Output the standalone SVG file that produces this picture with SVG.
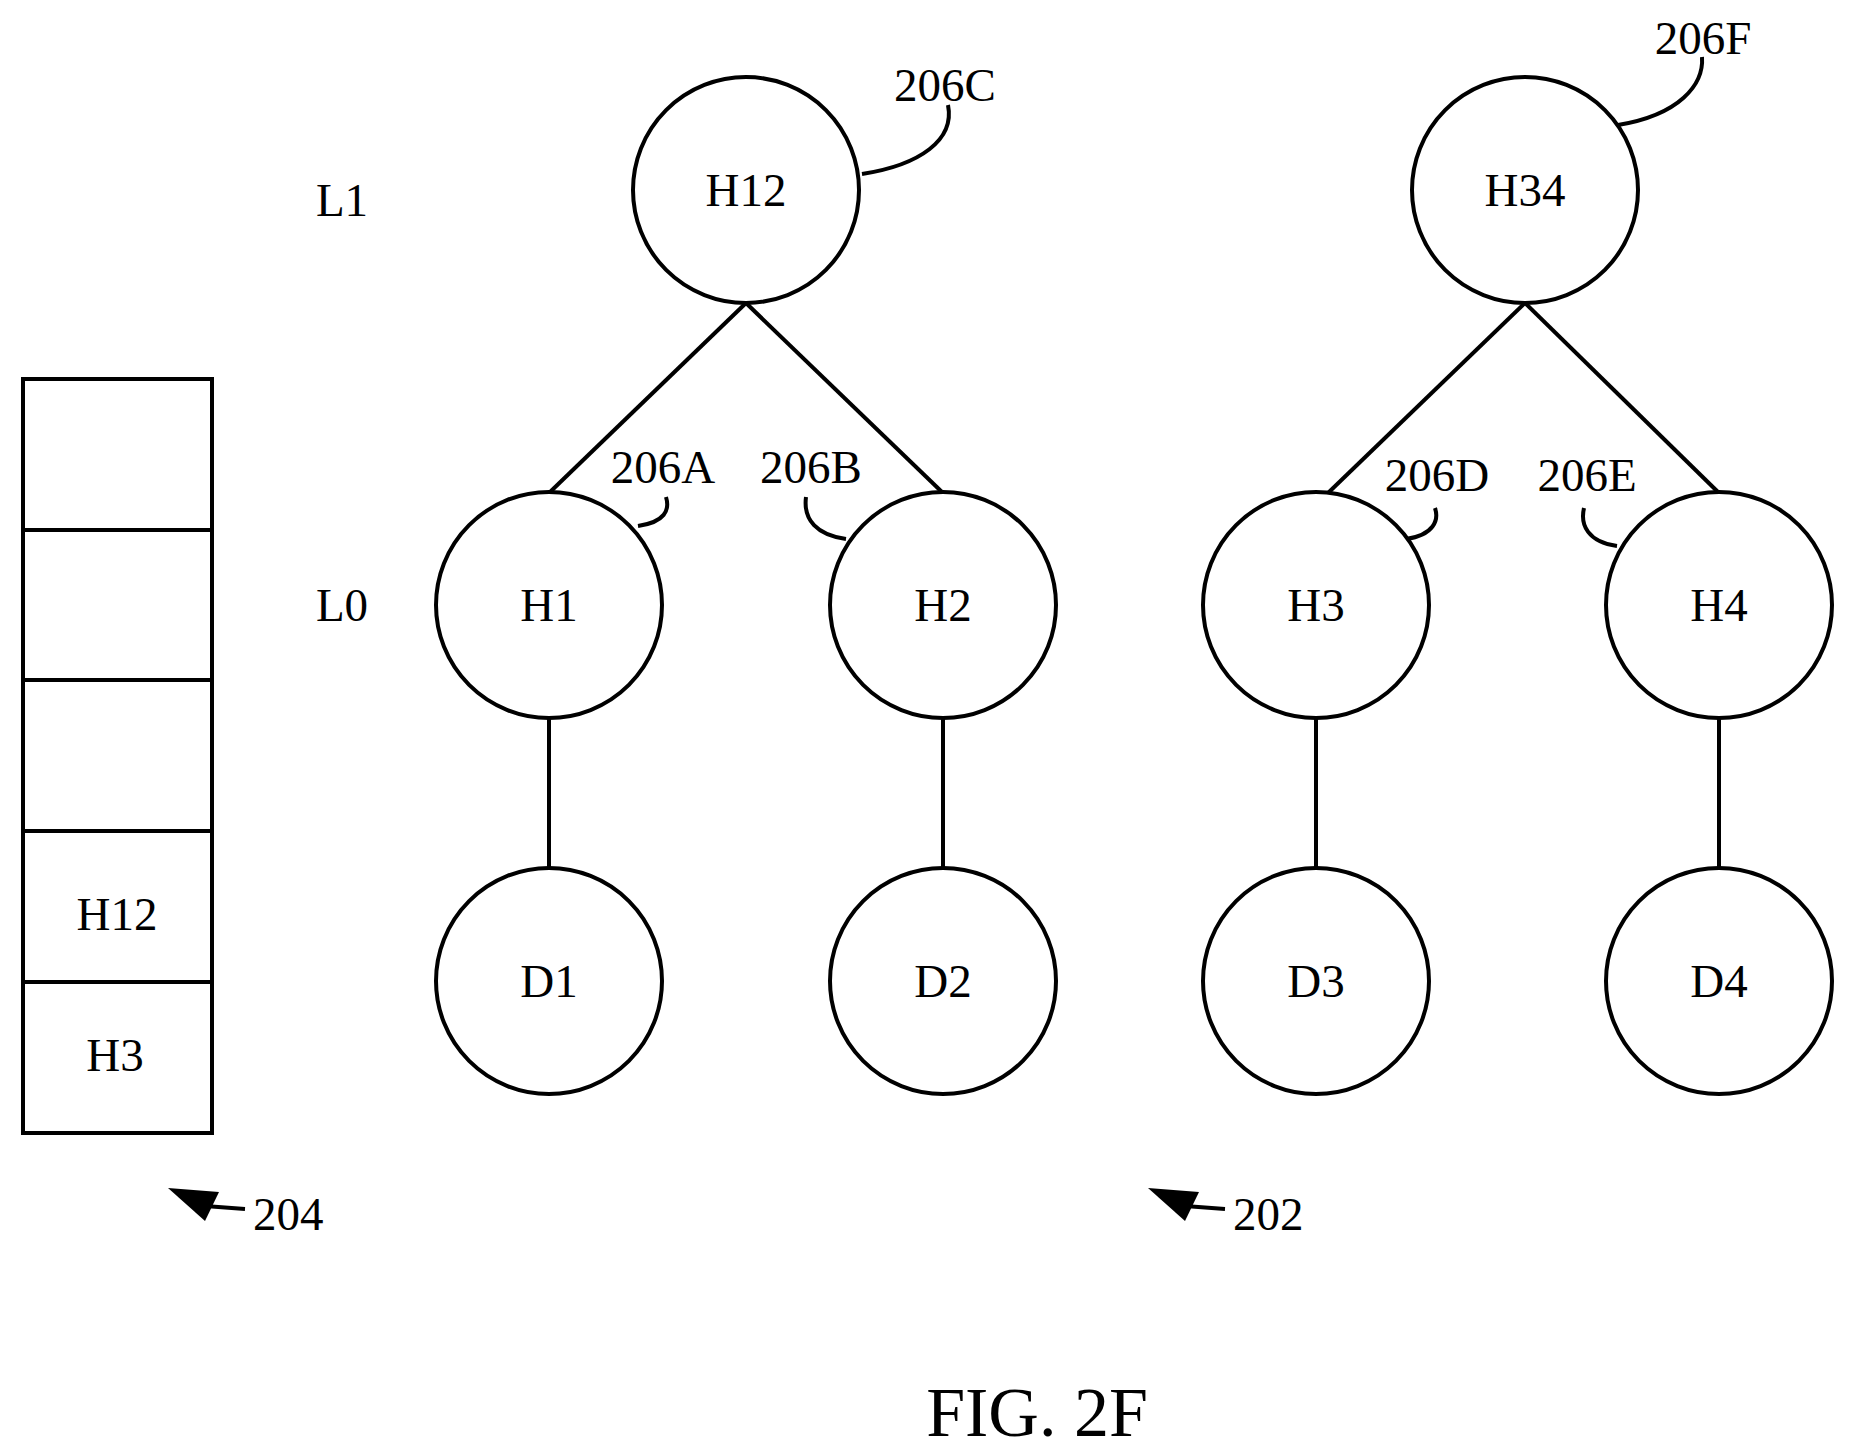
<svg xmlns="http://www.w3.org/2000/svg" width="1855" height="1453" viewBox="0 0 1855 1453">
<style>
.n{fill:#fff;stroke:#000;stroke-width:4}
.l{stroke:#000;stroke-width:4;fill:none}
text{font-family:"Liberation Serif",serif;font-size:47px;fill:#000}
.c{text-anchor:middle}
</style>
<rect width="1855" height="1453" fill="#fff"/>
<g id="connectors">
<line class="l" x1="746" y1="303" x2="549" y2="493"/>
<line class="l" x1="746" y1="303" x2="943" y2="493"/>
<line class="l" x1="1525" y1="303" x2="1328" y2="493"/>
<line class="l" x1="1525" y1="303" x2="1719" y2="493"/>
<line class="l" x1="549" y1="719" x2="549" y2="869"/>
<line class="l" x1="943" y1="719" x2="943" y2="869"/>
<line class="l" x1="1316" y1="719" x2="1316" y2="869"/>
<line class="l" x1="1719" y1="719" x2="1719" y2="869"/>
<path class="l" d="M862 174 C920 165 955 140 948 105"/>
<path class="l" d="M1618 125 C1679 115 1704 85 1702 57"/>
<path class="l" d="M638 526 C665 522 670 510 666 497"/>
<path class="l" d="M846 539 C817 535 803 520 806 497"/>
<path class="l" d="M1406 539 C1434 535 1439 520 1435 508"/>
<path class="l" d="M1617 546 C1588 542 1580 525 1584 508"/>
</g>
<g id="H12"><circle class="n" cx="746" cy="190" r="113"/><text class="c" x="746" y="206">H12</text></g>
<g id="H34"><circle class="n" cx="1525" cy="190" r="113"/><text class="c" x="1525" y="206">H34</text></g>
<g id="H1"><circle class="n" cx="549" cy="605" r="113"/><text class="c" x="549" y="621">H1</text></g>
<g id="H2"><circle class="n" cx="943" cy="605" r="113"/><text class="c" x="943" y="621">H2</text></g>
<g id="H3"><circle class="n" cx="1316" cy="605" r="113"/><text class="c" x="1316" y="621">H3</text></g>
<g id="H4"><circle class="n" cx="1719" cy="605" r="113"/><text class="c" x="1719" y="621">H4</text></g>
<g id="D1"><circle class="n" cx="549" cy="981" r="113"/><text class="c" x="549" y="997">D1</text></g>
<g id="D2"><circle class="n" cx="943" cy="981" r="113"/><text class="c" x="943" y="997">D2</text></g>
<g id="D3"><circle class="n" cx="1316" cy="981" r="113"/><text class="c" x="1316" y="997">D3</text></g>
<g id="D4"><circle class="n" cx="1719" cy="981" r="113"/><text class="c" x="1719" y="997">D4</text></g>
<g id="labels">
<text class="c" x="342" y="216">L1</text>
<text class="c" x="342" y="621">L0</text>
<text class="c" x="945" y="101">206C</text>
<text class="c" x="1703" y="54">206F</text>
<text class="c" x="663" y="483">206A</text>
<text class="c" x="811" y="483">206B</text>
<text class="c" x="1437" y="491">206D</text>
<text class="c" x="1587" y="491">206E</text>
</g>
<g id="stack">
<rect class="n" x="23" y="379" width="189" height="754" fill="none"/>
<line class="l" x1="23" y1="530" x2="212" y2="530"/>
<line class="l" x1="23" y1="680" x2="212" y2="680"/>
<line class="l" x1="23" y1="831" x2="212" y2="831"/>
<line class="l" x1="23" y1="982" x2="212" y2="982"/>
<text class="c" x="117" y="930">H12</text>
<text class="c" x="115" y="1071">H3</text>
</g>
<g id="refs">
<polygon points="168,1188 219,1192 205,1221" fill="#000"/>
<line class="l" x1="205" y1="1206" x2="245" y2="1209" stroke-width="5"/>
<text x="253" y="1230">204</text>
<polygon points="1148,1188 1199,1192 1185,1221" fill="#000"/>
<line class="l" x1="1185" y1="1206" x2="1225" y2="1209" stroke-width="5"/>
<text x="1233" y="1230">202</text>
<text class="c" x="1037" y="1436" style="font-size:70px">FIG. 2F</text>
</g>
</svg>
